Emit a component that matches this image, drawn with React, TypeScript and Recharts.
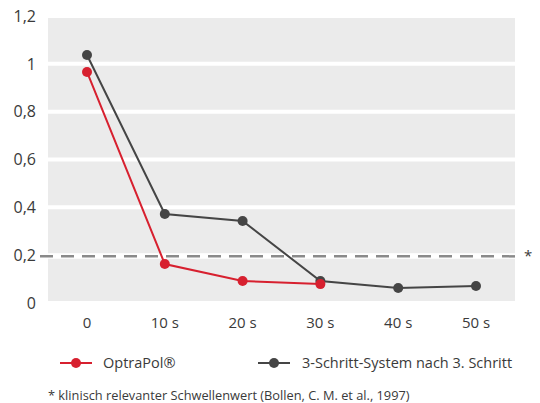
import React from "react";
import { LineChart, Line, XAxis, YAxis, CartesianGrid, ReferenceLine } from "recharts";

const categories = ["0", "10 s", "20 s", "30 s", "40 s", "50 s"];
const optraPol = [0.966, 0.163, 0.092, 0.079, null, null];
const dreiSchritt = [1.037, 0.372, 0.343, 0.092, 0.063, 0.071];
const yTicks = [0, 0.2, 0.4, 0.6, 0.8, 1, 1.2];
const threshold = 0.195;

const RED = "#d7202f";
const DARK = "#454545";
const TEXT = "#3a3a3a";
const FONT = "'Open Sans', sans-serif";

const data = categories.map((c, i) => ({ cat: c, a: optraPol[i], b: dreiSchritt[i] }));

const fmt = (v: number) => String(v).replace(".", ",");

function ThresholdShape(props: any) {
  const { x1, x2, y1 } = props;
  return (
    <g>
      <line x1={x1 - 8} x2={x2 + 6} y1={y1} y2={y1} stroke="#ffffff" strokeWidth={5} />
      <line x1={x1 - 8} x2={x2 + 6} y1={y1} y2={y1} stroke="#8a8a8a" strokeWidth={2.5} strokeDasharray="13 8" />
      <text x={x2 + 9} y={y1 + 5} fontSize={15} fill={TEXT} fontFamily={FONT}>*</text>
    </g>
  );
}

export default function App() {
  return (
    <div style={{ position: "absolute", left: 0, top: 0, width: 540, height: 403, background: "#fff", fontFamily: FONT }}>
      <LineChart width={540} height={340} data={data} margin={{ top: 16, right: 25, left: 0, bottom: 7 }}>
        <CartesianGrid vertical={false} fill="#ebebeb" stroke="#ffffff" strokeWidth={4} />
        <XAxis
          dataKey="cat"
          axisLine={false}
          tickLine={false}
          height={30}
          tickMargin={8}
          padding={{ left: 39, right: 39 }}
          tick={{ fontSize: 15, fill: TEXT, fontFamily: FONT }}
        />
        <YAxis
          type="number"
          domain={[0, 1.2]}
          ticks={yTicks}
          width={48}
          axisLine={false}
          tickLine={false}
          tickMargin={6}
          tickFormatter={fmt}
          tick={{ fontSize: 16, fill: TEXT, fontFamily: FONT }}
        />
        <ReferenceLine y={threshold} shape={ThresholdShape} />
        <Line dataKey="b" stroke={DARK} strokeWidth={2} dot={{ r: 5, fill: DARK, stroke: DARK, strokeWidth: 0 }} isAnimationActive={false} />
        <Line dataKey="a" stroke={RED} strokeWidth={2} dot={{ r: 5, fill: RED, stroke: RED, strokeWidth: 0 }} isAnimationActive={false} />
      </LineChart>
      <svg width={540} height={30} style={{ position: "absolute", left: 0, top: 348 }}>
        <line x1={60} x2={92} y1={15} y2={15} stroke={RED} strokeWidth={2} />
        <circle cx={76} cy={15} r={5} fill={RED} />
        <text x={103} y={20} fontSize={14.5} fill={TEXT} fontFamily={FONT}>OptraPol®</text>
        <line x1={258} x2={290} y1={15} y2={15} stroke={DARK} strokeWidth={2} />
        <circle cx={274} cy={15} r={5} fill={DARK} />
        <text x={302} y={20} fontSize={14.5} fill={TEXT} fontFamily={FONT}>3-Schritt-System nach 3. Schritt</text>
      </svg>
      <div style={{ position: "absolute", left: 48, top: 386, fontSize: 12.8, color: TEXT, whiteSpace: "nowrap" }}>
        * klinisch relevanter Schwellenwert (Bollen, C. M. et al., 1997)
      </div>
    </div>
  );
}
